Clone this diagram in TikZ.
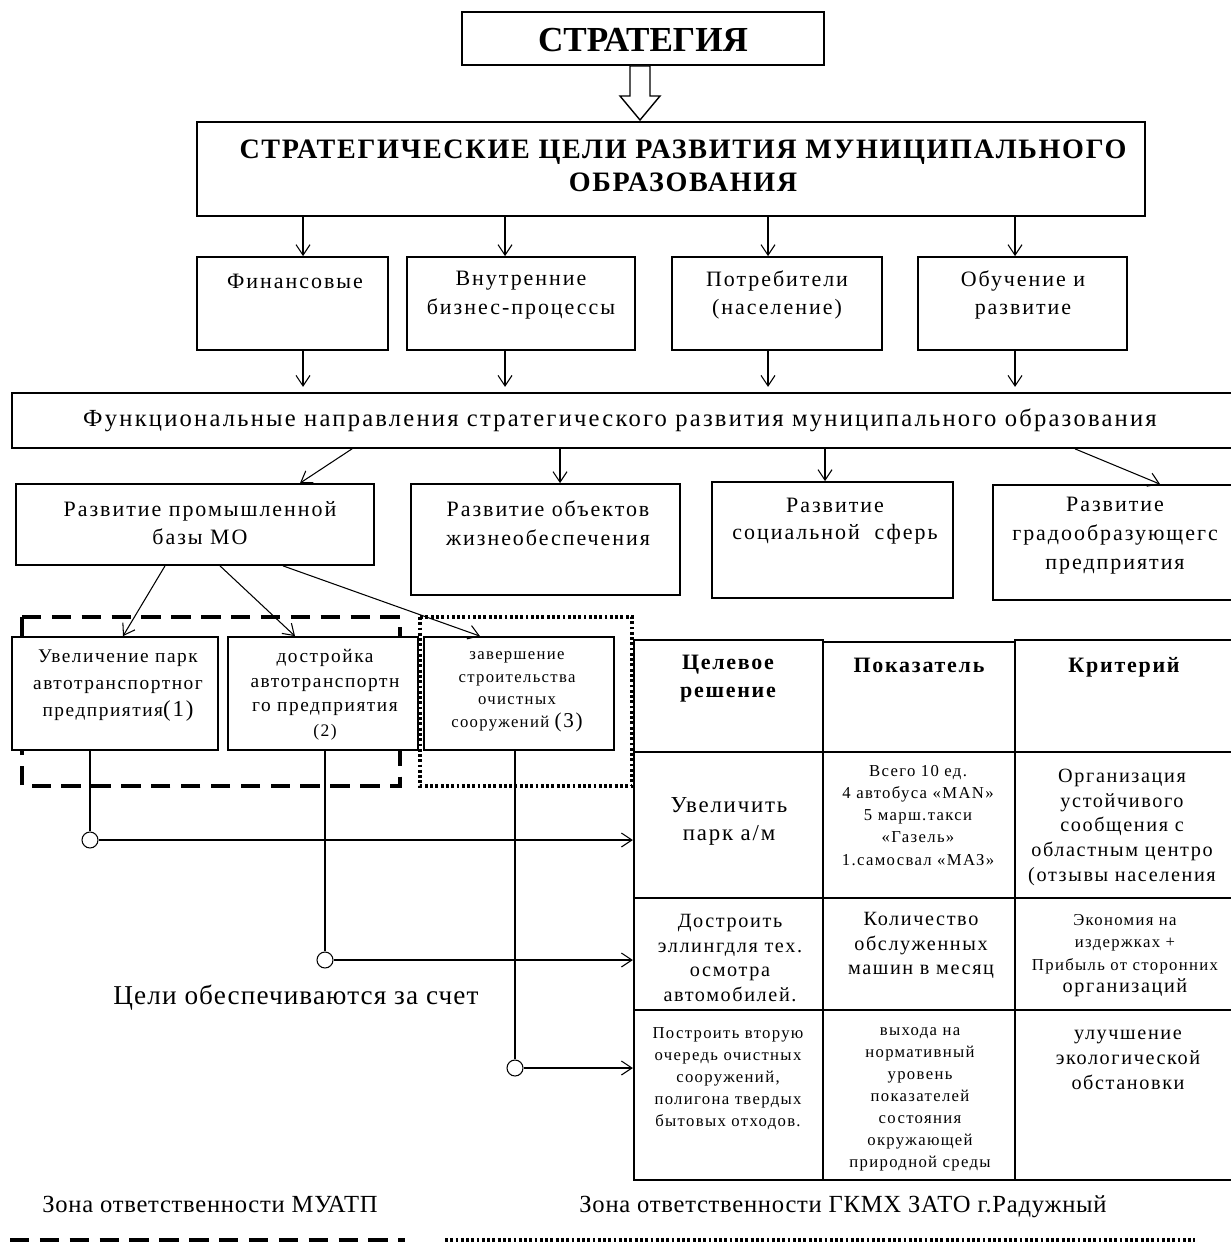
\documentclass[tikz,border=0pt]{standalone}
\usepackage{fontspec}
\setmainfont[LetterSpace=8]{Liberation Serif}
\usetikzlibrary{arrows.meta,fit}
\newcommand\myfs[2]{\fontsize{#1}{#2}\selectfont}
\newcommand\myls[1]{\addfontfeature{LetterSpace=#1}}
\begin{document}
\begin{tikzpicture}[x=0.02cm,y=-0.02cm,
  box/.style={draw, line width=1pt, fill=white, inner sep=0pt},
  tbl/.style={draw, line width=1.3pt, inner sep=0pt},
  t/.style={align=center, inner sep=0pt},
  arr/.style={line width=0.6pt, -{Straight Barb[length=6pt,width=8pt]}},
  con/.style={line width=0.6pt},
  dotc/.style={circle, draw, line width=0.6pt, fill=white, minimum size=0.32cm, inner sep=0pt},
  zoneA/.style={line width=2.6pt, dash pattern=on 11pt off 6pt},
  zoneB/.style={line width=2.6pt, dash pattern=on 1.6pt off 1.4pt}]
\useasboundingbox (0,0) rectangle (1230,1246);

% zones (behind boxes)
\draw[zoneA] (22,617) -- (400,617) -- (400,786) -- (22,786) -- cycle;
\draw[zoneB] (420,617) rectangle (632,786);

% top
\node[box, fit={(462,12) (824,65)}] (strat) {};
\node[t, font=\myfs{20}{24}\bfseries\myls{0}] (tstrat) at (643,40) {СТРАТЕГИЯ};
\draw[line width=0.8pt, fill=white] (630,66) -- (650,66) -- (650,96) -- (660,96) -- (640,120) -- (620,96) -- (630,96) -- cycle;

\node[box, fit={(197,122) (1145,216)}] (goals) {};
\node[t, font=\myfs{16}{18.7}\bfseries\myls{6}] (tgoals) at (683,166) {СТРАТЕГИЧЕСКИЕ ЦЕЛИ РАЗВИТИЯ МУНИЦИПАЛЬНОГО\\ОБРАЗОВАНИЯ};

% perspectives
\node[box, fit={(197,257) (388,350)}] (fin) {};
\node[box, fit={(407,257) (635,350)}] (bp) {};
\node[box, fit={(672,257) (882,350)}] (cons) {};
\node[box, fit={(918,257) (1127,350)}] (learn) {};
\node[t, font=\myfs{12.5}{16.4}\myls{9}] (tfin) at (295,281) {Финансовые};
\node[t, font=\myfs{12.5}{16.4}\myls{9}] (tbp) at (521,295) {Внутренние\\бизнес-процессы};
\node[t, font=\myfs{12.5}{16.4}\myls{9}] (tcons) at (777,295) {Потребители\\(население)};
\node[t, font=\myfs{12.5}{16.4}\myls{9}] (tlearn) at (1023,295) {Обучение и\\развитие};

\foreach \x/\n in {303/fin,505/bp,768/cons,1015/learn}{
  \draw[arr] (\x,0 |- goals.south) -- (\x,0 |- \n.north);
  \draw[arr] (\x,0 |- \n.south) -- ++(0,36);
}

\node[box, fit={(12,393) (1232,448)}] (func) {};
\node[t, font=\myfs{14}{16}\myls{9}] (tfunc) at (620,420) {Функциональные направления стратегического развития муниципального образования};

% directions
\node[box, fit={(16,484) (374,565)}] (prom) {};
\node[box, fit={(411,484) (680,595)}] (zhiz) {};
\node[box, fit={(712,482) (953,598)}] (soc) {};
\node[box, fit={(993,485) (1232,600)}] (grad) {};
\node[t, font=\myfs{12.5}{16.4}\myls{9}] (tprom) at (200,523) {Развитие промышленной\\базы МО};
\node[t, font=\myfs{12.5}{16.4}\myls{9}] (tzhiz) at (548,523) {Развитие объектов\\жизнеобеспечения};
\node[t, font=\myfs{12.5}{15.5}\myls{9}] (tsoc) at (835,521) {Развитие\\социальной\ \ сферь};
\node[t, font=\myfs{12.5}{16.4}\myls{9}, anchor=north] (tgrad) at (1115,497) {Развитие\\градообразующегс\\предприятия};

\draw[arr] (352,0 |- func.south) -- (300,0 |- prom.north);
\draw[arr] (560,0 |- func.south) -- (560,0 |- zhiz.north);
\draw[arr] (825,0 |- func.south) -- (825,0 |- soc.north);
\draw[arr] (1075,0 |- func.south) -- (1160,0 |- grad.north);

% projects
\node[box, fit={(12,637) (218,750)}] (p1) {};
\node[box, fit={(228,637) (418,750)}] (p2) {};
\node[box, fit={(424,637) (614,750)}] (p3) {};
\draw[zoneB] (420,617) -- (420,786);
\node[t, font=\myfs{11}{15.5}, anchor=north] (tp1) at (118,649) {Увеличение парк\\автотранспортног\\предприятия{\myfs{13}{14}(1)}};
\node[t, font=\myfs{11}{14}, anchor=north] (tp2) at (325,649) {достройка\\автотранспортн\\го предприятия\\{\myfs{10}{12}(2)}};
\node[t, font=\myfs{9.5}{13}, anchor=north] (tp3) at (517,651) {завершение\\строительства\\очистных\\сооружений {\myfs{12}{13}(3)}};

\draw[arr] (165,0 |- prom.south) -- (123,0 |- p1.north);
\draw[arr] (220,0 |- prom.south) -- (295,0 |- p2.north);
\draw[arr] (283,0 |- prom.south) -- (480,0 |- p3.north);

% table
\node[tbl, fit={(634,640) (823,752)}] (h1) {};
\node[tbl, fit={(823,642) (1015,752)}] (h2) {};
\node[tbl, fit={(1015,640) (1240,752)}] (h3) {};
\node[tbl, fit={(634,752) (823,898)}] (r1a) {};
\node[tbl, fit={(823,752) (1015,898)}] (r1b) {};
\node[tbl, fit={(1015,752) (1240,898)}] (r1c) {};
\node[tbl, fit={(634,898) (823,1010)}] (r2a) {};
\node[tbl, fit={(823,898) (1015,1010)}] (r2b) {};
\node[tbl, fit={(1015,898) (1240,1010)}] (r2c) {};
\node[tbl, fit={(634,1010) (823,1180)}] (r3a) {};
\node[tbl, fit={(823,1010) (1015,1180)}] (r3b) {};
\node[tbl, fit={(1015,1010) (1240,1180)}] (r3c) {};

\node[t, font=\myfs{12.5}{16}\bfseries, anchor=north] (th1) at (728,655) {Целевое\\решение};
\node[t, font=\myfs{12.5}{16}\bfseries, anchor=north] (th2) at (919,658) {Показатель};
\node[t, font=\myfs{12.5}{16}\bfseries, anchor=north] (th3) at (1124,657) {Критерий};

\node[t, font=\myfs{13}{16}, anchor=north] (t1a) at (729,797) {Увеличить\\парк а/м};
\node[t, font=\myfs{9.5}{12.6}, anchor=north] (t1b) at (918,765) {Всего 10 ед.\\4 автобуса «MAN»\\5 марш.такси\\«Газель»\\1.самосвал «МАЗ»};
\node[t, font=\myfs{11.5}{14}, anchor=north] (t1c) at (1122,769) {Организация\\устойчивого\\сообщения с\\областным центро\\(отзывы населения};

\node[t, font=\myfs{11.5}{14}, anchor=north] (t2a) at (730,914) {Достроить\\эллингдля тех.\\осмотра\\автомобилей.};
\node[t, font=\myfs{11.5}{14}, anchor=north] (t2b) at (921,912) {Количество\\обслуженных\\машин в месяц};
\node[t, font=\myfs{11.5}{12.8}, anchor=north] (t2c) at (1125,914) {{\myfs{9.5}{12.5}Экономия на}\\{\myfs{9.5}{12.5}издержках +}\\{\myfs{9.5}{12.5}Прибыль от сторонних}\\организаций};

\node[t, font=\myfs{9.5}{12.5}, anchor=north] (t3a) at (728,1027) {Построить вторую\\очередь очистных\\сооружений,\\полигона твердых\\бытовых отходов.};
\node[t, font=\myfs{9.5}{12.5}, anchor=north] (t3b) at (920,1027) {выхода на\\нормативный\\уровень\\показателей\\состояния\\окружающей\\природной среды};
\node[t, font=\myfs{11.5}{14}, anchor=north] (t3c) at (1128,1030) {улучшение\\экологической\\обстановки};

% connectors
\node[dotc] (c1) at (90,840) {};
\node[dotc] (c2) at (325,960) {};
\node[dotc] (c3) at (515,1068) {};
\draw[con] (90,0 |- p1.south) -- (c1.north);
\draw[con] (325,0 |- p2.south) -- (c2.north);
\draw[con] (515,0 |- p3.south) -- (c3.north);
\draw[arr] (c1.east) -- (c1 -| r1a.west);
\draw[arr] (c2.east) -- (c2 -| r2a.west);
\draw[arr] (c3.east) -- (c3 -| r3a.west);

\node[t, font=\myfs{15.5}{18}\myls{4}] (tgoal) at (296,998) {Цели обеспечиваются за счет};

% legend
\node[t, font=\myfs{14}{16}\myls{3}, anchor=base] (lz1) at (210,1212) {Зона ответственности МУАТП};
\node[t, font=\myfs{14}{16}\myls{3}, anchor=base] (lz2) at (843,1212) {Зона ответственности ГКМХ ЗАТО г.Радужный};
\coordinate (la1) at (10,1240);
\coordinate (la2) at (405,1240);
\coordinate (lb1) at (445,1240);
\coordinate (lb2) at (1195,1240);
\draw[zoneA] (la1) -- (la2);
\draw[zoneB] (lb1) -- (lb2);
\end{tikzpicture}
\end{document}
